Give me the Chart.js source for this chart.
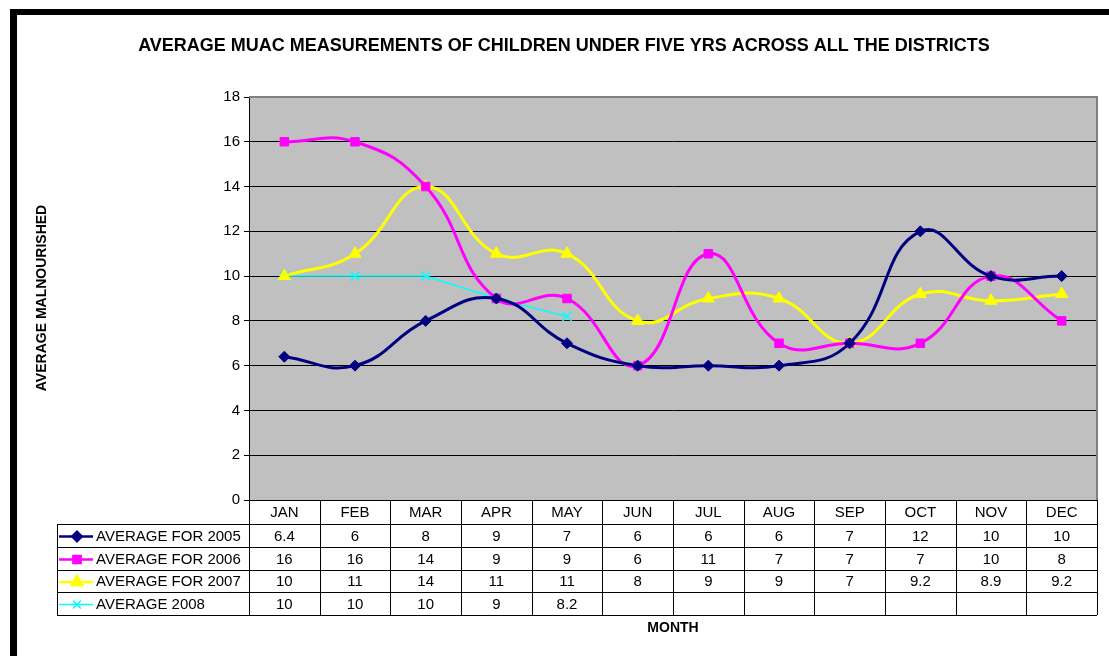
<!DOCTYPE html>
<html>
<head>
<meta charset="utf-8">
<script src="https://cdn.jsdelivr.net/npm/chart.js@4/dist/chart.umd.min.js"></script>
<style>
  html, body { margin: 0; padding: 0; background: #fff; }
  canvas { display: block; }
</style>
</head>
<body>
<canvas id="chart" width="1109" height="656"></canvas>
<script>
// data
const months = ['JAN', 'FEB', 'MAR', 'APR', 'MAY', 'JUN', 'JUL', 'AUG', 'SEP', 'OCT', 'NOV', 'DEC'];
const avg2005 = [6.4, 6, 8, 9, 7, 6, 6, 6, 7, 12, 10, 10];
const avg2006 = [16, 16, 14, 9, 9, 6, 11, 7, 7, 7, 10, 8];
const avg2007 = [10, 11, 14, 11, 11, 8, 9, 9, 7, 9.2, 8.9, 9.2];
const avg2008 = [10, 10, 10, 9, 8.2, null, null, null, null, null, null, null];
const seriesNames = ['AVERAGE FOR 2005', 'AVERAGE FOR 2006', 'AVERAGE FOR 2007', 'AVERAGE 2008'];
const yTicks = [0, 2, 4, 6, 8, 10, 12, 14, 16, 18];

const FONT = 'Arial, "Liberation Sans", sans-serif';

// frame, grey plot background, titles and data table
const decor = {
    id: 'decor',
    beforeDraw(chart) {
        const ctx = chart.ctx;
        const a = chart.chartArea;
        ctx.save();
        ctx.fillStyle = '#fff';
        ctx.fillRect(0, 0, chart.width, chart.height);
        // black frame (left + top)
        ctx.fillStyle = '#000';
        ctx.fillRect(10, 9, 7, chart.height - 9);
        ctx.fillRect(10, 9, chart.width - 10, 6);
        // plot area
        ctx.fillStyle = '#c0c0c0';
        ctx.fillRect(a.left, a.top, a.right - a.left, a.bottom - a.top);
        ctx.restore();
    },
    beforeDatasetsDraw(chart) {
        const ctx = chart.ctx;
        const a = chart.chartArea;
        ctx.save();
        ctx.strokeStyle = '#808080';
        ctx.lineWidth = 2;
        ctx.beginPath();
        ctx.moveTo(a.left, a.top);
        ctx.lineTo(a.right, a.top);
        ctx.lineTo(a.right, a.bottom);
        ctx.stroke();
        ctx.restore();
    },
    afterDraw(chart) {
        const ctx = chart.ctx;
        const a = chart.chartArea;
        const xs = chart.scales.x;
        ctx.save();
        ctx.fillStyle = '#000';
        ctx.textAlign = 'center';
        ctx.textBaseline = 'middle';
        ctx.font = 'bold 18px ' + FONT;
        ctx.fillText('AVERAGE MUAC MEASUREMENTS OF CHILDREN UNDER FIVE YRS ACROSS ALL THE DISTRICTS', 564, 46);
        ctx.font = 'bold 14px ' + FONT;
        ctx.fillText('MONTH', 673, 628);
        ctx.save();
        ctx.translate(42, 298);
        ctx.rotate(-Math.PI / 2);
        ctx.fillText('AVERAGE MALNOURISHED', 0, 0);
        ctx.restore();

        // table
        const colW = (a.right - a.left) / months.length;
        const top = a.bottom;
        const rows = [top, 524, 547, 570, 592, 615];
        const legLeft = 57;
        ctx.strokeStyle = '#000';
        ctx.lineWidth = 1;
        ctx.beginPath();
        for (let i = 0; i <= months.length; i++) {
            const x = Math.round(a.left + i * colW) + 0.5;
            ctx.moveTo(x, top);
            ctx.lineTo(x, rows[5]);
        }
        ctx.moveTo(legLeft + 0.5, rows[1]);
        ctx.lineTo(legLeft + 0.5, rows[5]);
        for (let r = 1; r < rows.length; r++) {
            ctx.moveTo(legLeft, rows[r] + 0.5);
            ctx.lineTo(a.right, rows[r] + 0.5);
        }
        ctx.stroke();

        ctx.font = '15px ' + FONT;
        months.forEach((m, i) => {
            ctx.fillText(m, xs.getPixelForValue(i), (rows[0] + rows[1]) / 2 + 1);
        });
        chart.data.datasets.forEach((ds, r) => {
            const cy = (rows[r + 1] + rows[r + 2]) / 2 + 1;
            ctx.fillStyle = '#000';
            ds.data.forEach((v, i) => {
                if (v === null) return;
                ctx.fillText(String(v), xs.getPixelForValue(i), cy);
            });
            // legend key
            ctx.strokeStyle = ds.borderColor;
            ctx.fillStyle = ds.borderColor;
            ctx.lineWidth = r === 3 ? 1.5 : 2.5;
            ctx.beginPath();
            ctx.moveTo(59, cy);
            ctx.lineTo(93, cy);
            ctx.stroke();
            Chart.helpers.drawPoint(ctx, {
                pointStyle: ds.pointStyle,
                radius: ds.pointRadius * 0.85,
                rotation: 0,
                borderWidth: r === 3 ? 1.5 : 1
            }, 77, cy);
            ctx.fillStyle = '#000';
            ctx.textAlign = 'left';
            ctx.fillText(seriesNames[r], 96, cy);
            ctx.textAlign = 'center';
        });
        ctx.restore();
    }
};

const mk = (label, data, color, style, radius, width, tension) => ({
    label: label,
    data: data,
    borderColor: color,
    backgroundColor: color,
    pointBackgroundColor: color,
    pointBorderColor: color,
    pointStyle: style,
    pointRadius: radius,
    pointBorderWidth: width < 2 ? 1.5 : 1,
    borderWidth: width,
    tension: tension,
    spanGaps: false
});

new Chart(document.getElementById('chart'), {
    type: 'line',
    data: {
        labels: months,
        datasets: [
            mk(seriesNames[0], avg2005, '#000080', 'rectRot', 5.5, 3, 0.45),
            mk(seriesNames[1], avg2006, '#ff00ff', 'rect', 6, 3, 0.45),
            mk(seriesNames[2], avg2007, '#ffff00', 'triangle', 7, 3, 0.45),
            mk(seriesNames[3], avg2008, '#00ffff', 'crossRot', 6.5, 1.5, 0)
        ]
    },
    options: {
        responsive: false,
        animation: false,
        devicePixelRatio: 1,
        layout: { padding: { left: 0, top: 97, right: 12, bottom: 156 } },
        plugins: {
            legend: { display: false },
            title: { display: false },
            tooltip: { enabled: false }
        },
        scales: {
            x: {
                display: false,
                offset: true
            },
            y: {
                min: 0,
                max: 18,
                afterFit(scale) { scale.width = 249; },
                afterBuildTicks(scale) { scale.ticks = yTicks.map(v => ({ value: v })); },
                ticks: {
                    color: '#000',
                    font: { family: FONT, size: 15 },
                    padding: 4
                },
                grid: {
                    color: '#000',
                    lineWidth: 1,
                    tickLength: 5,
                    drawOnChartArea: true
                },
                border: { color: '#000', width: 1 }
            }
        }
    },
    plugins: [decor]
});
</script>
</body>
</html>
